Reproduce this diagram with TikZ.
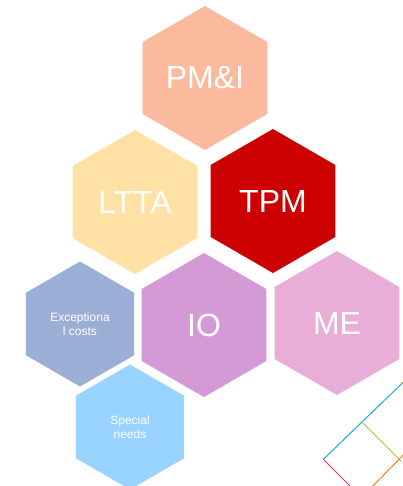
\documentclass[tikz,border=0pt]{standalone}
\usepackage{fontspec}
\setmainfont{Liberation Sans}
\usetikzlibrary{shapes.geometric}
\definecolor{cpmi}{RGB}{251,185,158}
\definecolor{cltta}{RGB}{255,224,165}
\definecolor{ctpm}{RGB}{204,0,0}
\definecolor{cio}{RGB}{212,154,214}
\definecolor{cme}{RGB}{233,174,216}
\definecolor{cexc}{RGB}{155,175,214}
\definecolor{cspec}{RGB}{153,211,255}
\definecolor{lblue}{RGB}{26,167,224}
\definecolor{lgreen}{RGB}{155,196,60}
\definecolor{lmag}{RGB}{230,48,138}
\definecolor{lorange}{RGB}{245,130,32}
\tikzset{
  hexbig/.style={regular polygon, regular polygon sides=6, shape border rotate=30,
    minimum size=144pt, inner sep=0pt, text=white, font=\fontsize{32}{36}\selectfont},
  hexsmall/.style={regular polygon, regular polygon sides=6, shape border rotate=30,
    minimum size=125pt, inner sep=0pt, text=white, align=center,
    font=\fontsize{12}{14}\selectfont},
  deco/.style={line width=1pt}
}
\begin{document}
\begin{tikzpicture}[x=1pt,y=-1pt]
\useasboundingbox (0,0) rectangle (403,486);
\clip (0,0) rectangle (403,486);
\node[hexbig, fill=cpmi] (pmi) at (205,78) {PM\&I};
\node[hexbig, fill=cltta] (ltta) at (135,202) {LTTA};
\node[hexbig, fill=ctpm] (tpm) at (273,201) {TPM};
\node[hexbig, fill=cio] (io) at (204,325) {IO};
\node[hexbig, fill=cme] (me) at (337,323) {ME};
\node[hexsmall, fill=cexc] (exc) at (80,324) {Exceptiona\\l costs};
\node[hexsmall, fill=cspec] (spec) at (130,427) {Special\\needs};
\coordinate (b1) at (420,366);
\coordinate (b2) at (323.3,459.3);
\coordinate (g1) at (361.7,421.7);
\coordinate (g2) at (401,461);
\coordinate (m2) at (353,489);
\coordinate (o1) at (401.7,382.7);
\coordinate (o2) at (408,388);
\coordinate (o3) at (410,448);
\coordinate (o4) at (370,489);
\draw[deco, lblue] (b1) -- (b2);
\draw[deco, lmag] (b2) -- (m2);
\draw[deco, lgreen] (g1) -- (g2);
\draw[deco, lorange] (o1) -- (o2);
\draw[deco, lorange] (o3) -- (o4);
\end{tikzpicture}
\end{document}
